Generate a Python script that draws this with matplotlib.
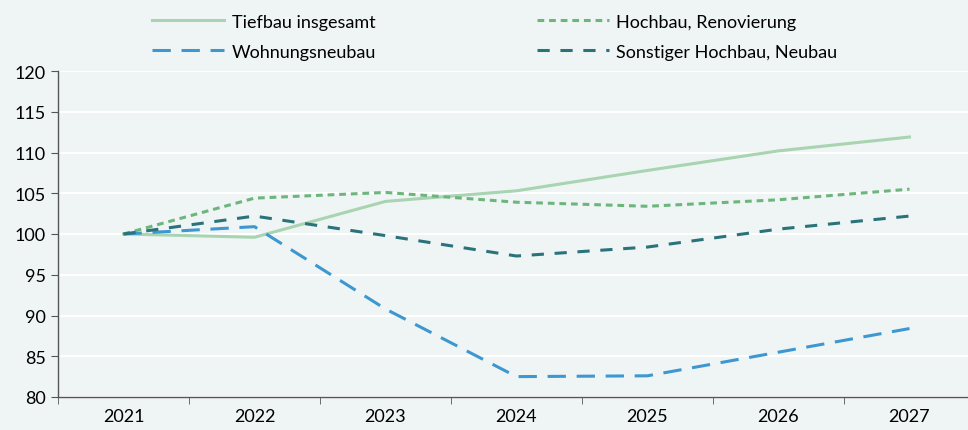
import numpy as np
import matplotlib.pyplot as plt

# === Data ===
years = ["2021", "2022", "2023", "2024", "2025", "2026", "2027"]
tiefbau = [100.0, 99.6, 104.0, 105.3, 107.8, 110.2, 111.9]
renovierung = [100.0, 104.4, 105.1, 103.9, 103.4, 104.2, 105.5]
wohnungsneubau = [100.0, 100.9, 90.8, 82.5, 82.6, 85.5, 88.4]
sonstiger = [100.0, 102.2, 99.8, 97.3, 98.4, 100.6, 102.2]

bg = '#eff5f5'
plt.rcParams['font.family'] = ['Lato', 'DejaVu Sans']

fig = plt.figure(figsize=(9.68, 4.31), dpi=100, facecolor=bg)
ax = fig.add_axes([58 / 968, 33 / 431, 917 / 968, 326 / 431])
ax.set_facecolor(bg)

x = np.arange(len(years))
ax.plot(x, tiefbau, color='#a9d4b2', lw=2.2, label='Tiefbau insgesamt')
ax.plot(x, wohnungsneubau, color='#3d97d0', lw=2.2, dashes=(6, 3.5),
        label='Wohnungsneubau')
ax.plot(x, renovierung, color='#6cb67c', lw=2.2, dashes=(2.2, 1.6),
        label='Hochbau, Renovierung')
ax.plot(x, sonstiger, color='#2b737b', lw=2.2, dashes=(4, 3.5),
        label='Sonstiger Hochbau, Neubau')

# axes styling
ax.set_xlim(-0.5, len(years) - 0.5)
ax.set_ylim(80, 120)
ax.set_yticks(np.arange(80, 121, 5))
ax.grid(axis='y', color='white', lw=1.5)
ax.set_axisbelow(True)
ax.set_xticks(x)
ax.set_xticklabels(years)
ax.set_xticks(np.arange(-0.5, len(years), 1), minor=True)
ax.tick_params(axis='x', which='major', length=0, pad=8, labelsize=13)
ax.tick_params(axis='x', which='minor', length=5, direction='out', color='#555555')
ax.tick_params(axis='y', length=5, color='#555555', labelsize=13, pad=4)
for s in ['top', 'right']:
    ax.spines[s].set_visible(False)
for s in ['left', 'bottom']:
    ax.spines[s].set_color('#555555')
    ax.spines[s].set_linewidth(1.0)

handles, labels = ax.get_legend_handles_labels()
fig.legend(handles, labels,
           ncol=2, loc='upper left', bbox_to_anchor=(136 / 968, 1.004),
           frameon=False, fontsize=13, handlelength=4, handletextpad=0.4,
           columnspacing=8.9, labelspacing=0.78)

fig.savefig('out.png', dpi=100, facecolor=bg)
